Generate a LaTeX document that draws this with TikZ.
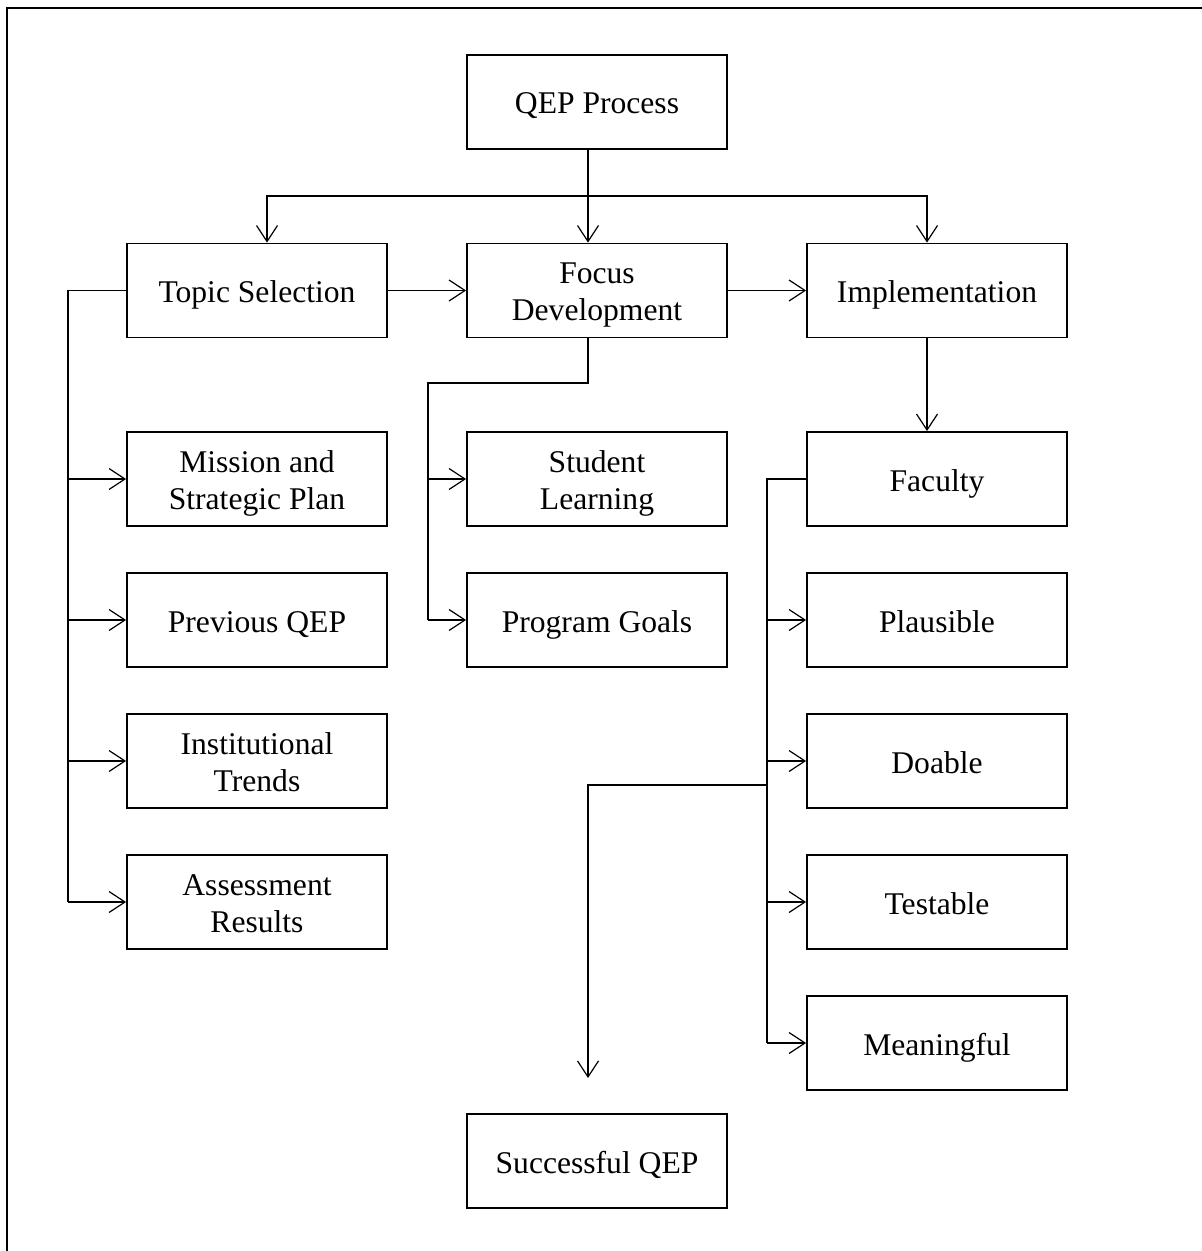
\documentclass[tikz,border=0pt]{standalone}
\usepackage{fontspec}
\setmainfont{Liberation Serif}
\usetikzlibrary{arrows.meta}
\newcommand\qepstrutA{\rule{0pt}{15.5pt}}
\begin{document}
\begin{tikzpicture}[x=0.5pt,y=-0.5pt,
  box/.style={draw,line width=0.9pt,minimum width=130pt,minimum height=47pt,inner sep=0pt,align=center,font=\fontsize{15.8}{18.5}\selectfont,
    execute at begin node={\rule{0pt}{15.5pt}},
    execute at end node={\rule[-3.5pt]{0pt}{0pt}}},
  conn/.style={line width=0.6pt},
  arr/.style={conn,-{Straight Barb[length=8pt,width=10.5pt,line width=0.6pt]}}]
\useasboundingbox (0,0) rectangle (1202,1251);
\draw[line width=1pt] (7,1251) -- (7,8) -- (1202,8);
% nodes
\node[box] (qep) at (597,102) {QEP Process};
\node[box] (topic) at (257,290.5) {Topic Selection};
\node[box] (focus) at (597,290.5) {\qepstrutA Focus\\Development};
\node[box] (impl) at (937,290.5) {Implementation};
\node[box] (mission) at (257,479) {\qepstrutA Mission and\\Strategic Plan};
\node[box] (prev) at (257,620) {Previous QEP};
\node[box] (inst) at (257,761) {\qepstrutA Institutional\\Trends};
\node[box] (assess) at (257,902) {\qepstrutA Assessment\\Results};
\node[box] (student) at (597,479) {\qepstrutA Student\\Learning};
\node[box] (goals) at (597,620) {Program Goals};
\node[box] (faculty) at (937,479) {Faculty};
\node[box] (plaus) at (937,620) {Plausible};
\node[box] (doable) at (937,761) {Doable};
\node[box] (test) at (937,902) {Testable};
\node[box] (meaning) at (937,1043) {Meaningful};
\node[box] (success) at (597,1161) {Successful QEP};
% lanes
\coordinate (xA) at (267,0);
\coordinate (xB) at (588,0);
\coordinate (xC) at (927,0);
\coordinate (xL) at (68,0);
\coordinate (xM) at (428,0);
\coordinate (xR) at (767,0);
\coordinate (yT) at (0,196);
\coordinate (yM) at (0,383);
\coordinate (yS) at (0,785);
\coordinate (endS) at (588,1078);
% top distribution
\draw[conn] (qep.south -| xB) -- (xB |- yT);
\draw[arr] (xB |- yT) -- (focus.north -| xB);
\draw[arr] (xB |- yT) -| (topic.north -| xA);
\draw[arr] (xB |- yT) -| (impl.north -| xC);
\draw[arr] (topic.east) -- (focus.west);
\draw[arr] (focus.east) -- (impl.west);
% left branch
\draw[conn] (topic.west) -- (topic.west -| xL) -- (xL |- assess.west);
\draw[arr] (xL |- mission.west) -- (mission.west);
\draw[arr] (xL |- prev.west) -- (prev.west);
\draw[arr] (xL |- inst.west) -- (inst.west);
\draw[arr] (xL |- assess.west) -- (assess.west);
% middle branch
\draw[conn] (focus.south -| xB) -- (xB |- yM) -| (xM |- goals.west);
\draw[arr] (xM |- student.west) -- (student.west);
\draw[arr] (xM |- goals.west) -- (goals.west);
% right branch
\draw[arr] (impl.south -| xC) -- (faculty.north -| xC);
\draw[conn] (faculty.west) -- (faculty.west -| xR) -- (xR |- meaning.west);
\draw[arr] (xR |- plaus.west) -- (plaus.west);
\draw[arr] (xR |- doable.west) -- (doable.west);
\draw[arr] (xR |- test.west) -- (test.west);
\draw[arr] (xR |- meaning.west) -- (meaning.west);
\draw[arr] (xR |- yS) -| (endS);
\end{tikzpicture}
\end{document}
